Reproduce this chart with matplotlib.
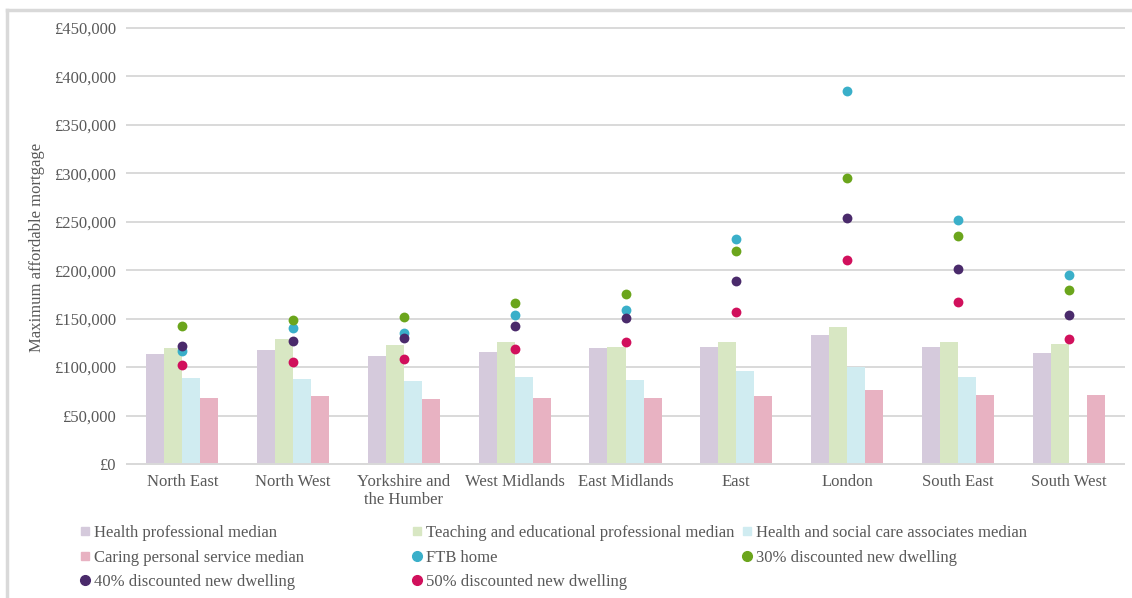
import matplotlib
matplotlib.use("Agg")
import matplotlib.pyplot as plt
from matplotlib.lines import Line2D
import numpy as np

regions = ["North East", "North West", "Yorkshire and\nthe Humber", "West Midlands",
           "East Midlands", "East", "London", "South East", "South West"]

health_prof = [113400, 117800, 111300, 115800, 119600, 121000, 133000, 121000, 114800]
teaching = [119600, 128600, 122400, 125800, 121000, 125800, 141300, 125500, 123700]
hsc_assoc = [88600, 87600, 85500, 89600, 87200, 96100, 99600, 89900, np.nan]
caring = [68200, 70000, 66900, 68200, 68200, 70000, 76200, 71700, 71700]

ftb = [117000, 140600, 135100, 153400, 159200, 232000, 385300, 252200, 195000]
disc30 = [142700, 148500, 151600, 165800, 175100, 219900, 295600, 235400, 179600]
disc40 = [122000, 126800, 129900, 142300, 150300, 188900, 253700, 201300, 153400]
disc50 = [101700, 105000, 108200, 118900, 125500, 156500, 210600, 167100, 128600]

yticks = [0, 50000, 100000, 150000, 200000, 250000, 300000, 350000, 400000, 450000]
ytick_labels = ["£0", "£50,000", "£100,000", "£150,000", "£200,000", "£250,000",
                "£300,000", "£350,000", "£400,000", "£450,000"]

bar_series = [
    ("Health professional median", health_prof, "#D5CADC"),
    ("Teaching and educational professional median", teaching, "#D8E7C3"),
    ("Health and social care associates median", hsc_assoc, "#D0ECF1"),
    ("Caring personal service median", caring, "#E8B2C2"),
]
dot_series = [
    ("FTB home", ftb, "#3AAFC9"),
    ("30% discounted new dwelling", disc30, "#6BA51C"),
    ("40% discounted new dwelling", disc40, "#4A2A6B"),
    ("50% discounted new dwelling", disc50, "#D1105C"),
]

FONT = "Liberation Serif"
TXT = "#595959"
plt.rcParams["font.family"] = [FONT, "DejaVu Serif"]

W, H = 1132, 598
fig = plt.figure(figsize=(W / 100, H / 100), dpi=100)
ax = fig.add_axes([127 / W, 1 - 464 / H, (1124 - 127) / W, (464 - 28) / H])

x = np.arange(len(regions))
bw = 0.1625
offsets = [-1.5, -0.5, 0.5, 1.5]
for (name, vals, col), off in zip(bar_series, offsets):
    ax.bar(x + off * bw, vals, width=bw, color=col, zorder=2, label=name)

for name, vals, col in dot_series:
    ax.scatter(x, vals, s=50, color=col, zorder=3, label=name, linewidths=0)

ax.set_xlim(-0.5, len(regions) - 0.5)
ax.set_ylim(0, 450000)
ax.set_yticks(yticks)
ax.set_yticklabels(ytick_labels)
ax.set_xticks(x)
ax.set_xticklabels(regions, linespacing=1.15)
ax.tick_params(axis="both", length=0, labelsize=12, colors=TXT)
ax.tick_params(axis="y", pad=8)
ax.tick_params(axis="x", pad=7)
ax.grid(axis="y", color="#D9D9D9", linewidth=1.4, zorder=0)
for gl in ax.get_ygridlines():
    gl.set_clip_on(False)
ax.set_axisbelow(True)
for s in ["top", "right", "left"]:
    ax.spines[s].set_visible(False)
ax.spines["bottom"].set_color("#D9D9D9")
ax.spines["bottom"].set_linewidth(1.4)

fig.text(37 / W, 1 - 247 / H, "Maximum affordable mortgage", rotation=90,
         ha="center", va="center", fontsize=12, color=TXT)

# figure frame (top and left edges visible)
fig.add_artist(Line2D([7 / W, 1], [1 - 10 / H, 1 - 10 / H], color="#D9D9D9", lw=2.5,
                      transform=fig.transFigure))
fig.add_artist(Line2D([7 / W, 7 / W], [0, 1 - 10 / H], color="#D9D9D9", lw=2.5,
                      transform=fig.transFigure))

def bar_handle(col):
    return Line2D([], [], marker="s", linestyle="none", markersize=6,
                  markerfacecolor=col, markeredgecolor=col)

def dot_handle(col):
    return Line2D([], [], marker="o", linestyle="none", markersize=7,
                  markerfacecolor=col, markeredgecolor=col)

entries = [(n, bar_handle(c)) for n, v, c in bar_series] + \
          [(n, dot_handle(c)) for n, v, c in dot_series]
columns = [[entries[0], entries[3], entries[6]],
           [entries[1], entries[4], entries[7]],
           [entries[2], entries[5]]]
col_x = [80, 412, 742]
for cx, items in zip(col_x, columns):
    leg = fig.legend([h for n, h in items], [n for n, h in items],
                     loc="upper left", bbox_to_anchor=(cx / W, 1 - 525 / H),
                     frameon=False, fontsize=12, handlelength=0.55,
                     handletextpad=0.3, labelspacing=0.52, borderaxespad=0,
                     borderpad=0, labelcolor=TXT)

fig.savefig("out.png", dpi=100, facecolor="white")
